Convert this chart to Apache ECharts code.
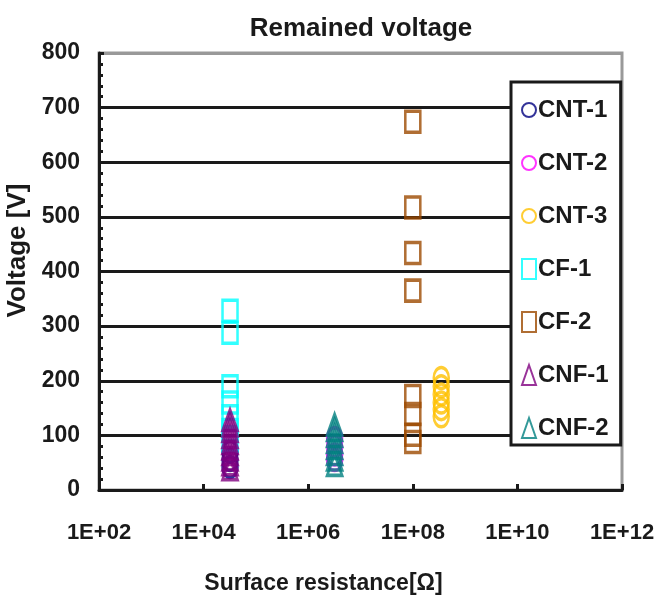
<!DOCTYPE html>
<html>
<head>
<meta charset="utf-8">
<title>Remained voltage</title>
<script src="https://cdn.jsdelivr.net/npm/echarts@6/dist/echarts.min.js"></script>
<style>
  html, body { margin: 0; padding: 0; background: #fff; }
  #chart { width: 662px; height: 601px; }
</style>
</head>
<body>
<div id="chart"></div>
<script>
// Remained voltage vs. surface resistance for each sample material
const seriesNames = ['CNT-1', 'CNT-2', 'CNT-3', 'CF-1', 'CF-2', 'CNF-1', 'CNF-2'];
const seriesColors = ['#000080', '#ff00ff', '#ffc000', '#00ffff', '#9c4a00', '#800080', '#008080'];
const seriesSymbols = ['circle', 'circle', 'circle', 'rect', 'rect', 'triangle', 'triangle'];

// surface resistance [Ω] of each sample
const resistance = [3.2e4, 3.2e6, 3.5e8, 3.2e4, 1.0e8, 3.2e4, 3.2e6];

// measured remained voltage [V]
const cnt1Voltage = [70, 55, 42];
const cnt2Voltage = [95, 80, 65, 55];
const cnt3Voltage = [205, 190, 175, 160, 148, 135];
const cf1Voltage = [328, 288, 190, 160, 135, 110, 90];
const cf2Voltage = [674, 517, 434, 365, 172, 139, 101, 88];
const cnf1Voltage = [128, 118, 108, 97, 86, 76, 66, 56, 47, 38];
const cnf2Voltage = [120, 110, 99, 88, 77, 66, 56, 46];

const voltages = [cnt1Voltage, cnt2Voltage, cnt3Voltage, cf1Voltage, cf2Voltage, cnf1Voltage, cnf2Voltage];

const yTicks = [0, 100, 200, 300, 400, 500, 600, 700, 800];

const FONT = '"Liberation Sans", Arial, sans-serif';
const INK = '#1a1a1a';

const chart = echarts.init(document.getElementById('chart'), null, { renderer: 'canvas' });

const series = seriesNames.map((name, i) => ({
  name: name,
  type: 'scatter',
  symbol: seriesSymbols[i],
  symbolSize: [15, 21],
  itemStyle: {
    color: 'rgba(255,255,255,0)',
    borderColor: seriesColors[i],
    borderWidth: 3
  },
  emphasis: { disabled: true },
  data: voltages[i].map(v => [resistance[i], v])
}));

// grid lines: black for inner values, grey on the top frame
const splitColors = yTicks.map(t => (t === yTicks[yTicks.length - 1] ? '#999999' : INK));

chart.setOption({
  animation: false,
  title: {
    text: 'Remained voltage',
    left: 356,
    textAlign: 'center',
    top: 11,
    textStyle: { fontFamily: FONT, fontSize: 26, fontWeight: 'bold', color: INK }
  },
  grid: {
    left: 99, top: 53, width: 523, height: 437,
    outerBoundsMode: 'none',
    containLabel: false,
    show: true,
    backgroundColor: '#fff',
    borderColor: '#999999',
    borderWidth: 3
  },
  legend: {
    orient: 'vertical',
    left: 511,
    top: 82,
    padding: [16, 12, 5, 10],
    itemGap: 29,
    itemWidth: 14,
    itemHeight: 20,
    backgroundColor: '#fff',
    borderColor: INK,
    borderWidth: 3,
    borderRadius: 0,
    data: seriesNames,
    textStyle: { fontFamily: FONT, fontSize: 24, fontWeight: 'bold', color: INK, padding: [0, 0, 0, -3] }
  },
  xAxis: {
    type: 'log',
    logBase: 100,
    min: 1e2,
    max: 1e12,
    name: 'Surface resistance[Ω]',
    nameLocation: 'middle',
    nameGap: 82,
    nameTextStyle: { fontFamily: FONT, fontSize: 23, fontWeight: 'bold', color: INK, padding: [0, 74, 0, 0] },
    axisLine: { show: true, lineStyle: { color: INK, width: 3 } },
    axisTick: { show: true, inside: true, length: 6, lineStyle: { color: INK, width: 3 } },
    minorTick: { show: false },
    splitLine: { show: false },
    axisLabel: {
      margin: 32,
      fontFamily: FONT, fontSize: 22, fontWeight: 'bold', color: INK,
      formatter: v => {
        const e = Math.round(Math.log10(v));
        return '1E+' + (e < 10 ? '0' + e : String(e));
      }
    }
  },
  yAxis: {
    type: 'value',
    min: yTicks[0],
    max: yTicks[yTicks.length - 1],
    interval: 100,
    name: 'Voltage [V]',
    nameLocation: 'middle',
    nameRotate: 90,
    nameGap: 61,
    nameTextStyle: { fontFamily: FONT, fontSize: 26, fontWeight: 'bold', color: INK, padding: [0, 0, 0, 42] },
    axisLine: { show: true, lineStyle: { color: INK, width: 3 } },
    axisTick: { show: true, inside: true, length: 5, lineStyle: { color: INK, width: 3 } },
    minorTick: { show: true, inside: true, splitNumber: 5, length: 4, lineStyle: { color: INK, width: 3 } },
    splitLine: { show: true, lineStyle: { color: splitColors, width: 3 } },
    axisLabel: { margin: 19, fontFamily: FONT, fontSize: 23, fontWeight: 'bold', color: INK }
  },
  series: series
});
</script>
</body>
</html>
